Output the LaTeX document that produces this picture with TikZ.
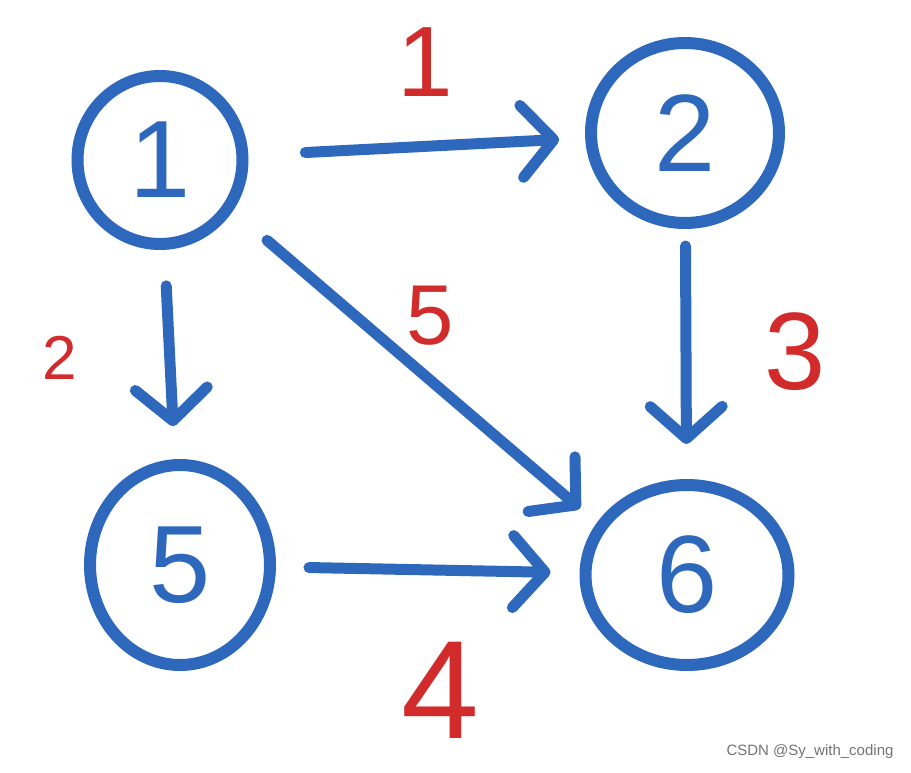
\documentclass[tikz,border=0pt]{standalone}
\usepackage{fontspec}
\setmainfont{Liberation Sans}
\usetikzlibrary{shapes.geometric,arrows.meta}
\definecolor{penblue}{HTML}{2E68BD}
\definecolor{penred}{HTML}{D22B2B}
\begin{document}
\begin{tikzpicture}[x=1pt,y=-1pt,
  vert/.style={ellipse,draw=penblue,line width=12pt,text=penblue,inner sep=0pt,
    font=\fontsize{110}{110}\selectfont},
  edge/.style={draw=penblue,line width=11pt,line cap=round,
    -{Straight Barb[length=32pt,width=72pt,line width=11pt,round]}},
  wlabel/.style={text=penred}]
\useasboundingbox[fill=white] (0,0) rectangle (911,773);
\node[vert,minimum width=165pt,minimum height=168pt] (n1) at (160,160) {1};
\node[vert,minimum width=188pt,minimum height=180pt] (n2) at (685,133) {2};
\node[vert,minimum width=180pt,minimum height=200pt] (n5) at (180,565) {5};
\node[vert,minimum width=203pt,minimum height=180pt] (n6) at (687,575) {6};
\draw[edge,shorten <=57pt,shorten >=26pt] (n1) -- (n2);
\draw[edge,shorten <=17pt,shorten >=35pt] (n2) -- (n6);
\draw[edge,shorten <=36pt,shorten >=33pt] (n1) -- (n5);
\draw[edge,shorten <=45pt,shorten >=22pt] (n1.-35) -- (n6.150);
\draw[edge,shorten <=33pt,shorten >=29pt] (n5) -- (n6);
\node[wlabel,font=\fontsize{100}{100}\selectfont] (l1) at (425,62) {1};
\node[wlabel,font=\fontsize{62}{62}\selectfont] (l2) at (60,358) {2};
\node[wlabel,font=\fontsize{85}{85}\selectfont] (l5) at (430,316) {5};
\node[wlabel,font=\fontsize{110}{110}\selectfont] (l3) at (795,352) {3};
\node[wlabel,font=\fontsize{140}{140}\selectfont] (l4) at (440,690) {4};
\node[text=black!55,font=\fontsize{15}{15}\selectfont,anchor=east] (wm) at (897,752) {CSDN @Sy\_with\_coding};
\end{tikzpicture}
\end{document}
